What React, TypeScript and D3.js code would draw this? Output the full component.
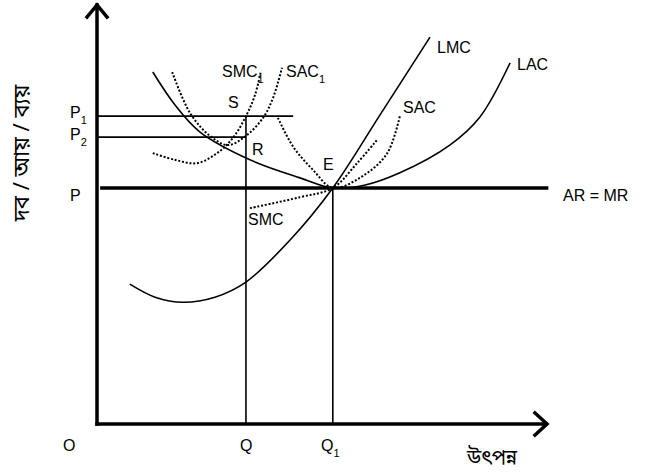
import * as d3 from 'd3'

const W = 648
const H = 473

// axes in data units (0..100 on both)
const xScale = d3.scaleLinear().domain([0, 100]).range([97, 547])
const yScale = d3.scaleLinear().domain([0, 100]).range([424, 4])

// key levels
const Q = 33.1
const Q1 = 52.4
const P = 56.2
const P1 = 73.3
const P2 = 68.3

type Pt = [number, number]

const lac: Pt[] = [
  [12.4, 83.8], [17.3, 76], [22.9, 69.5], [34, 62.9], [45.1, 58.6],
  [52.4, 56.2], [59.6, 56.9], [67.3, 59.8], [78.4, 66.4], [85.1, 73.1], [91.8, 86],
]
const lmc: Pt[] = [
  [7.3, 33.3], [12.9, 30.2], [19.1, 29], [26.2, 30.2], [33.1, 33.8],
  [42.9, 43.8], [52.4, 56.2], [62.9, 73.6], [74, 92.1],
]
const smc1: Pt[] = [
  [12.4, 64.5], [17.3, 62.9], [22.2, 62.1], [26.7, 64.5], [30.2, 68.1],
  [33.1, 73.3], [35.1, 78.3], [36.4, 83.8],
]
const sac1: Pt[] = [
  [16.7, 83.8], [20.7, 74], [25.1, 68.6], [29.1, 66.4], [33.1, 68.6],
  [36.9, 72.9], [39.1, 77.6], [41.1, 84.8],
]
const sac: Pt[] = [
  [40.2, 72.9], [43.6, 66], [48, 60.5], [52.4, 56.2], [58.4, 58.6], [64.4, 64.3], [67.3, 73.3],
]
const smc: Pt[] = [
  [34, 51.4], [45.1, 54], [52.4, 56.2], [57.8, 62.1], [62.2, 67.6],
]

const line = d3
  .line<Pt>()
  .x((d) => xScale(d[0]))
  .y((d) => yScale(d[1]))
  .curve(d3.curveCatmullRom.alpha(0.5))

const font = "'Liberation Sans', Arial, sans-serif"
const bnFont = "'Noto Sans Bengali', 'Noto Sans', 'Liberation Sans', sans-serif"

function Sub({ x, y, main, sub }: { x: number; y: number; main: string; sub: string }) {
  return (
    <text x={x} y={y} fontSize={16} fontFamily={font}>
      {main}
      <tspan fontSize={11} dy={6}>{sub}</tspan>
    </text>
  )
}

export default function App() {
  const x0 = xScale(0)
  const y0 = yScale(0)
  const xEnd = xScale(100)
  const yEnd = yScale(100)
  return (
    <svg
      width={W}
      height={H}
      style={{ position: 'absolute', left: 0, top: 0, background: '#fff' }}
    >
      {/* axes */}
      <g stroke="#000" strokeWidth={3.5} fill="none" strokeLinecap="square">
        <line x1={x0} y1={y0} x2={x0} y2={yEnd + 1} />
        <line x1={x0} y1={y0} x2={xEnd - 1} y2={y0} />
        <polyline points={`${x0 - 10},${yEnd + 13} ${x0},${yEnd + 1} ${x0 + 10},${yEnd + 13}`} strokeLinejoin="miter" />
        <polyline points={`${xEnd - 12},${y0 - 11} ${xEnd},${y0} ${xEnd - 12},${y0 + 11}`} strokeLinejoin="miter" />
      </g>

      {/* price lines */}
      <line x1={xScale(0.7)} y1={yScale(P)} x2={xScale(100.3)} y2={yScale(P)} stroke="#000" strokeWidth={3.5} />
      <line x1={x0} y1={yScale(P1)} x2={xScale(43.6)} y2={yScale(P1)} stroke="#000" strokeWidth={1.6} />
      <line x1={x0} y1={yScale(P2)} x2={xScale(Q)} y2={yScale(P2)} stroke="#000" strokeWidth={1.6} />
      <line x1={xScale(Q)} y1={yScale(P1)} x2={xScale(Q)} y2={y0} stroke="#000" strokeWidth={1.6} />
      <line x1={xScale(Q1)} y1={yScale(P)} x2={xScale(Q1)} y2={y0} stroke="#000" strokeWidth={1.6} />

      {/* solid long-run curves */}
      <path d={line(lac) ?? ''} fill="none" stroke="#000" strokeWidth={1.6} />
      <path d={line(lmc) ?? ''} fill="none" stroke="#000" strokeWidth={1.6} />

      {/* dotted short-run curves */}
      <g fill="none" stroke="#000" strokeWidth={2} strokeDasharray="2,1.8">
        <path d={line(smc1) ?? ''} />
        <path d={line(sac1) ?? ''} />
        <path d={line(sac) ?? ''} />
        <path d={line(smc) ?? ''} />
      </g>

      {/* curve labels */}
      <Sub x={222} y={77} main="SMC" sub="1" />
      <Sub x={286} y={77} main="SAC" sub="1" />
      <text x={437} y={53} fontSize={16} fontFamily={font}>LMC</text>
      <text x={517} y={70} fontSize={16} fontFamily={font}>LAC</text>
      <text x={403} y={113} fontSize={16} fontFamily={font}>SAC</text>
      <text x={248} y={225} fontSize={16} fontFamily={font}>SMC</text>
      <text x={563} y={201} fontSize={16} fontFamily={font}>AR = MR</text>
      <text x={228} y={108} fontSize={16} fontFamily={font}>S</text>
      <text x={252} y={155} fontSize={16} fontFamily={font}>R</text>
      <text x={323} y={170} fontSize={16} fontFamily={font}>E</text>

      {/* axis labels */}
      <Sub x={70} y={118} main="P" sub="1" />
      <Sub x={70} y={140} main="P" sub="2" />
      <text x={70} y={201} fontSize={16} fontFamily={font}>P</text>
      <text x={63} y={451} fontSize={16} fontFamily={font}>O</text>
      <text x={240} y={451} fontSize={16} fontFamily={font}>Q</text>
      <Sub x={321} y={451} main="Q" sub="1" />
      <text x={467} y={464} fontSize={20} fontFamily={bnFont}>উৎপন্ন</text>
      <text
        transform="translate(29,153) rotate(-90)"
        textAnchor="middle"
        fontSize={22}
        fontFamily={bnFont}
      >
        দব / আয় / ব্যয়
      </text>
    </svg>
  )
}
